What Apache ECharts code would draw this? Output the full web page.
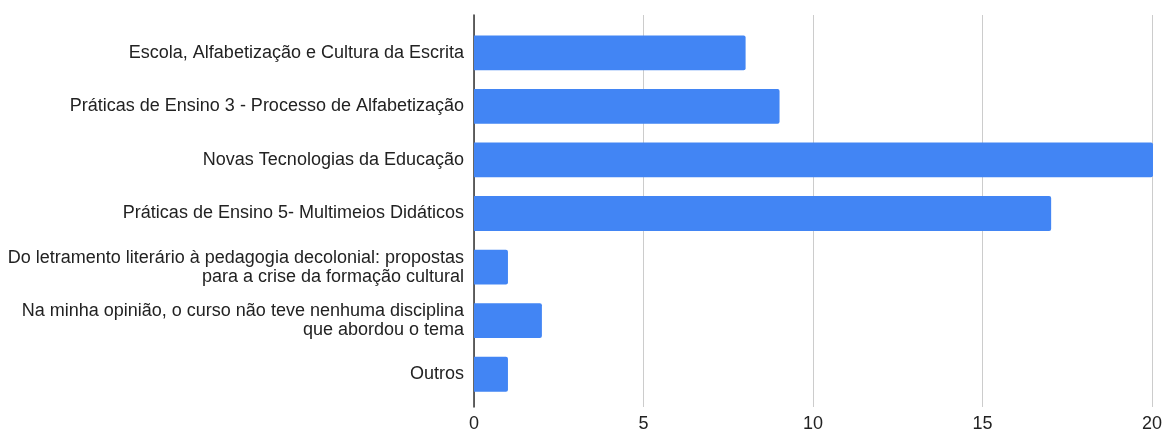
<!DOCTYPE html>
<html><head><meta charset="utf-8">
<script src="https://cdn.jsdelivr.net/npm/echarts@6/dist/echarts.min.js"></script>
<style>html,body{margin:0;padding:0;background:#fff}#c{width:1165px;height:433px}</style>
</head><body><div id="c"></div>
<script>
const categories = [
  "Escola, Alfabetização e Cultura da Escrita",
  "Práticas de Ensino 3 - Processo de Alfabetização",
  "Novas Tecnologias da Educação",
  "Práticas de Ensino 5- Multimeios Didáticos",
  "Do letramento literário à pedagogia decolonial: propostas\npara a crise da formação cultural",
  "Na minha opinião, o curso não teve nenhuma disciplina\nque abordou o tema",
  "Outros"
];
const values = [8, 9, 20, 17, 1, 2, 1];
const xTicks = { min: 0, max: 20, interval: 5 };

const font = "Arial, 'Liberation Sans', sans-serif";
const chart = echarts.init(document.getElementById('c'));
chart.setOption({
  animation: false,
  grid: [
    { left: 474, right: 12, top: 26, bottom: 32 },
    { left: 474, right: 12, top: 15, bottom: 23 }
  ],
  xAxis: [
    { gridIndex: 0, type: 'value', min: xTicks.min, max: xTicks.max, interval: xTicks.interval, show: false },
    { gridIndex: 1, type: 'value', min: xTicks.min, max: xTicks.max, interval: xTicks.interval,
      axisLine: { show: false }, axisTick: { show: false },
      splitLine: { show: true, lineStyle: { color: '#cccccc', width: 1 } },
      axisLabel: { color: '#222', fontSize: 18, fontFamily: font, margin: 8 } }
  ],
  yAxis: [
    { gridIndex: 0, type: 'category', data: categories, inverse: true,
      axisLine: { show: false }, axisTick: { show: false },
      axisLabel: { color: '#222', fontSize: 18, fontFamily: font, margin: 10, lineHeight: 19, align: 'right' } },
    { gridIndex: 1, type: 'category', data: [''],
      axisLine: { show: true, lineStyle: { color: '#333', width: 1.5 } },
      axisTick: { show: false }, axisLabel: { show: false } }
  ],
  series: [{
    type: 'bar', xAxisIndex: 0, yAxisIndex: 0, data: values,
    barCategoryGap: '35%',
    itemStyle: { color: '#4285F4', borderRadius: [0, 2, 2, 0] }
  }]
});
</script></body></html>
